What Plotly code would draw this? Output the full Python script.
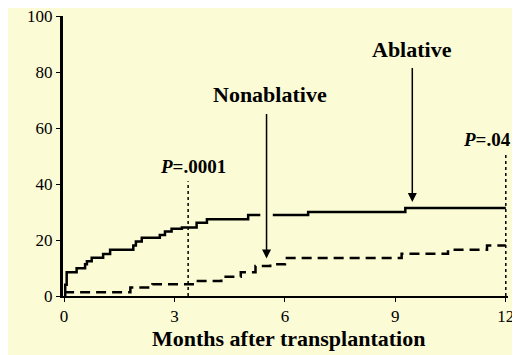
import plotly.graph_objects as go

# Ablative (solid) cumulative incidence, step function
abl_months = [0, 0.03, 0.07, 0.34, 0.57, 0.62, 0.75, 1.06, 1.25, 1.88, 1.95, 2.11, 2.6, 2.74, 2.92,
              3.2, 3.6, 3.88, 5.0, 6.63, 9.27, 12]
abl_values = [0, 4, 8.5, 9.9, 11.3, 12.4, 13.7, 15.0, 16.5, 18.0, 19.5, 20.8, 21.8, 23.0, 24.0,
              24.5, 26.2, 27.4, 28.9, 30.0, 31.4, 31.4]

# Nonablative (dashed)
non_months = [0, 1.75, 1.8, 2.4, 3.55, 4.27, 4.8, 5.2, 5.6, 6.0, 9.17, 10.43, 11.49, 12]
non_values = [1.3, 1.3, 3.0, 4.2, 5.4, 6.9, 8.5, 10.7, 11.3, 13.6, 15.1, 16.5, 18.0, 18.0]

x_ticks = [0, 3, 6, 9, 12]
y_ticks = [0, 20, 40, 60, 80, 100]

SERIF = "Liberation Serif"
BG = "#FBFBD5"

fig = go.Figure()
fig.add_trace(go.Scatter(x=abl_months, y=abl_values, mode="lines", line_shape="hv",
                         line=dict(color="black", width=2.5), showlegend=False, cliponaxis=False))
fig.add_trace(go.Scatter(x=non_months, y=non_values, mode="lines", line_shape="hv",
                         line=dict(color="black", width=2.5, dash="10px,6px"), showlegend=False,
                         cliponaxis=False))

# gap in the solid curve where the Nonablative arrow crosses it
fig.add_shape(type="rect", x0=5.33, x1=5.67, y0=27.5, y1=30.5, xref="x", yref="y",
              fillcolor=BG, line=dict(width=0), layer="above")

# dotted P-value markers
fig.add_shape(type="line", x0=3.37, x1=3.37, y0=0, y1=41, xref="x", yref="y",
              line=dict(color="black", width=1.5, dash="dot"))
fig.add_shape(type="line", x0=12, x1=12, y0=0, y1=50.7, xref="x", yref="y",
              line=dict(color="black", width=1.5, dash="dot"))

# arrows
fig.add_annotation(x=5.5, y=13.4, ax=5.5, ay=65.5, xref="x", yref="y", axref="x", ayref="y",
                   text="", showarrow=True, arrowhead=2, arrowsize=1.2, arrowwidth=1.5, arrowcolor="black")
fig.add_annotation(x=9.46, y=33.6, ax=9.46, ay=82, xref="x", yref="y", axref="x", ayref="y",
                   text="", showarrow=True, arrowhead=2, arrowsize=1.2, arrowwidth=1.5, arrowcolor="black")

fig.add_annotation(x=5.6, y=71.8, xref="x", yref="y", text="<b>Nonablative</b>", showarrow=False,
                   font=dict(family=SERIF, size=22, color="black"))
fig.add_annotation(x=9.45, y=88.2, xref="x", yref="y", text="<b>Ablative</b>", showarrow=False,
                   font=dict(family=SERIF, size=22, color="black"))
fig.add_annotation(x=3.5, y=46.2, xref="x", yref="y", text="<b><i>P</i>=.0001</b>", showarrow=False,
                   font=dict(family=SERIF, size=19, color="black"))
fig.add_annotation(x=11.5, y=56, xref="x", yref="y", text="<b><i>P</i>=.04</b>", showarrow=False,
                   font=dict(family=SERIF, size=19, color="black"))

# x-axis title
fig.add_annotation(x=6.1, y=0, xref="x", yref="paper", yanchor="middle", yshift=-42,
                   text="<b>Months after transplantation</b>", showarrow=False,
                   font=dict(family=SERIF, size=22, color="black"))

# page has an 8px body margin, so the figure is 8px smaller than the window
fig.update_layout(
    width=512, height=347,
    margin=dict(l=55, r=12, t=8, b=59, autoexpand=False),
    paper_bgcolor=BG, plot_bgcolor=BG,
    font=dict(family=SERIF, color="black"),
    xaxis=dict(range=[-0.03, 12.06], tickvals=x_ticks, ticktext=[str(v) for v in x_ticks],
               showgrid=False, zeroline=False, showline=True, linecolor="black", linewidth=2,
               ticks="outside", ticklen=4, tickcolor="black", tickwidth=1, automargin=False,
               ticklabeloverflow="allow",
               tickfont=dict(family=SERIF, size=17, color="black")),
    yaxis=dict(range=[0, 100], tickvals=y_ticks, ticktext=[str(v) for v in y_ticks],
               showgrid=False, zeroline=False, showline=True, linecolor="black", linewidth=3,
               ticks="outside", ticklen=4, tickcolor="black", tickwidth=1, automargin=False,
               ticklabeloverflow="allow",
               tickfont=dict(family=SERIF, size=17, color="black")),
)

fig.write_html("out.html")
